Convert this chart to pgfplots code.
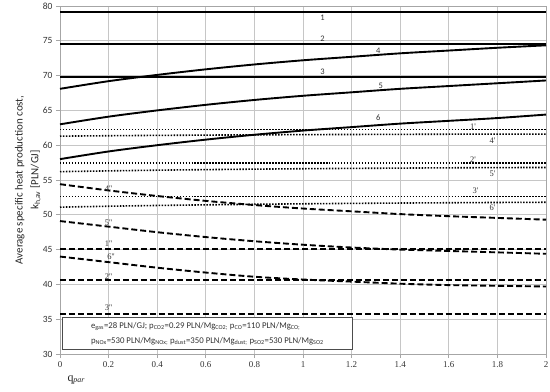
\documentclass[border=0pt]{standalone}
\usepackage{pgfplots}
\pgfplotsset{compat=1.18}
\usepackage{fontspec}
\setmainfont{Carlito}
\newfontfamily\serifx{Liberation Serif}
\begin{document}
\begin{tikzpicture}
\useasboundingbox (-60bp,-38bp) rectangle (490bp,354bp);
\begin{axis}[
  at={(0,0)}, anchor=south west,
  width=486bp, height=348bp, scale only axis,
  xmin=0, xmax=2, ymin=30, ymax=80,
  xtick={0,0.2,...,2.01}, ytick={30,35,...,80},
  xticklabels={0,0.2,0.4,0.6,0.8,1,1.2,1.4,1.6,1.8,2},
  grid=major, grid style={gray!45, line width=0.9pt},
  axis line style={gray!70, line width=0.9pt},
  tick style={gray!70, line width=0.9pt},
  tick pos=left, tick align=outside, major tick length=4bp,
  yticklabel style={font=\fontsize{9.5}{10}\selectfont, text=black!80},
  xticklabel style={font=\serifx\fontsize{9}{10}\selectfont, text=black!80},
  /pgf/number format/assume math mode=true,
  clip=false,
]
% solid
\addplot[black, line width=1.9pt] coordinates {(0,79.2)(2,79.2)};
\addplot[black, line width=1.9pt] coordinates {(0,74.5)(2,74.5)};
\addplot[black, line width=1.9pt] coordinates {(0,69.75)(2,69.75)};
\addplot[black, line width=1.9pt, smooth] coordinates {(0,68.1)(0.2,69.2)(0.4,70.1)(0.6,70.9)(0.8,71.6)(1,72.2)(1.2,72.7)(1.4,73.2)(1.6,73.6)(1.8,74.0)(2,74.35)};
\addplot[black, line width=1.9pt, smooth] coordinates {(0,63.0)(0.2,64.1)(0.4,65.0)(0.6,65.8)(0.8,66.5)(1,67.1)(1.2,67.6)(1.4,68.1)(1.6,68.5)(1.8,68.9)(2,69.3)};
\addplot[black, line width=1.9pt, smooth] coordinates {(0,58.0)(0.2,59.1)(0.4,60.0)(0.6,60.8)(0.8,61.5)(1,62.1)(1.2,62.6)(1.4,63.1)(1.6,63.5)(1.8,63.9)(2,64.4)};
% dotted
\addplot[black, line width=1.6pt, dash pattern=on 1.5pt off 1.5pt] coordinates {(0,62.25)(2,62.25)};
\addplot[black, line width=1.6pt, dash pattern=on 1.5pt off 1.5pt, smooth] coordinates {(0,61.3)(0.2,61.36)(0.4,61.41)(0.6,61.45)(0.8,61.49)(1,61.52)(1.2,61.54)(1.4,61.56)(1.6,61.58)(1.8,61.59)(2,61.6)};
\addplot[black, line width=1.6pt, dash pattern=on 1.5pt off 1.5pt] coordinates {(0,57.45)(2,57.45)};
\addplot[black, line width=1.6pt, dash pattern=on 1.5pt off 1.5pt, smooth] coordinates {(0,56.2)(0.2,56.31)(0.4,56.41)(0.6,56.49)(0.8,56.56)(1,56.62)(1.2,56.67)(1.4,56.71)(1.6,56.75)(1.8,56.78)(2,56.8)};
\addplot[black, line width=1.6pt, dash pattern=on 1.5pt off 1.5pt] coordinates {(0,52.65)(2,52.65)};
\addplot[black, line width=1.6pt, dash pattern=on 1.5pt off 1.5pt, smooth] coordinates {(0,51.1)(0.2,51.23)(0.4,51.34)(0.6,51.43)(0.8,51.51)(1,51.58)(1.2,51.64)(1.4,51.69)(1.6,51.73)(1.8,51.77)(2,51.8)};
% dashed
\addplot[black, line width=1.9pt, dash pattern=on 6pt off 3pt] coordinates {(0,45.15)(2,45.15)};
\addplot[black, line width=1.9pt, dash pattern=on 6pt off 3pt] coordinates {(0,40.6)(2,40.6)};
\addplot[black, line width=1.9pt, dash pattern=on 6pt off 3pt] coordinates {(0,35.7)(2,35.7)};
\addplot[black, line width=1.9pt, dash pattern=on 6pt off 3pt, smooth] coordinates {(0,54.4)(0.2,53.5)(0.4,52.7)(0.6,52.0)(0.8,51.4)(1,50.9)(1.2,50.5)(1.4,50.1)(1.6,49.8)(1.8,49.55)(2,49.3)};
\addplot[black, line width=1.9pt, dash pattern=on 6pt off 3pt, smooth] coordinates {(0,49.1)(0.2,48.3)(0.4,47.5)(0.6,46.8)(0.8,46.2)(1,45.7)(1.2,45.3)(1.4,45.0)(1.6,44.8)(1.8,44.6)(2,44.4)};
\addplot[black, line width=1.9pt, dash pattern=on 6pt off 3pt, smooth] coordinates {(0,44.0)(0.2,43.2)(0.4,42.4)(0.6,41.7)(0.8,41.1)(1,40.7)(1.2,40.4)(1.4,40.1)(1.6,39.9)(1.8,39.8)(2,39.7)};
% curve labels
\begin{scope}[every node/.style={font=\fontsize{8.5}{9}\selectfont, text=black!80, inner sep=0pt}]
\node at (axis cs:1.08,78.3) {1};
\node at (axis cs:1.08,75.3) {2};
\node at (axis cs:1.31,73.6) {4};
\node at (axis cs:1.08,70.5) {3};
\node at (axis cs:1.32,68.6) {5};
\node at (axis cs:1.31,63.9) {6};
\end{scope}
\begin{scope}[every node/.style={font=\serifx\fontsize{8.5}{9}\selectfont, text=black!80, inner sep=0pt}]
\node at (axis cs:1.70,62.6) {1'};
\node at (axis cs:1.78,60.6) {4'};
\node at (axis cs:1.70,57.9) {2'};
\node at (axis cs:1.78,55.9) {5'};
\node at (axis cs:1.71,53.4) {3'};
\node at (axis cs:1.78,51.0) {6'};
\node at (axis cs:0.20,53.7) {4''};
\node at (axis cs:0.20,48.9) {5''};
\node at (axis cs:0.20,45.9) {1''};
\node at (axis cs:0.21,44.0) {6''};
\node at (axis cs:0.20,41.1) {2''};
\node at (axis cs:0.20,36.6) {3''};
\end{scope}
\node[draw=black!70, line width=0.9pt, fill=white, anchor=south west, inner xsep=4bp, inner ysep=3bp, align=left,
  font=\fontsize{8.8}{15}\selectfont, text=black!80, minimum width=290bp, minimum height=32bp]
  at (axis cs:0.008,30.55)
  {e\textsubscript{gas}=28 PLN/GJ; p\textsubscript{CO2}=0.29 PLN/Mg\textsubscript{CO2;} p\textsubscript{CO}=110 PLN/Mg\textsubscript{CO;}\\
   p\textsubscript{NOx}=530 PLN/Mg\textsubscript{NOx;} p\textsubscript{dust}=350 PLN/Mg\textsubscript{dust;} p\textsubscript{SO2}=530 PLN/Mg\textsubscript{SO2}};
\end{axis}
\node[rotate=90, align=center, font=\fontsize{11}{16}\selectfont, text=black!85] at (-32bp,174bp)
  {Average specific heat production cost,\\ k\textsubscript{h,av} [PLN/GJ]};
\node[anchor=west, font=\serifx\fontsize{12}{12}\selectfont, text=black!85] at (4bp,-26bp) {q\textsubscript{\itshape par}};
\end{tikzpicture}
\end{document}
